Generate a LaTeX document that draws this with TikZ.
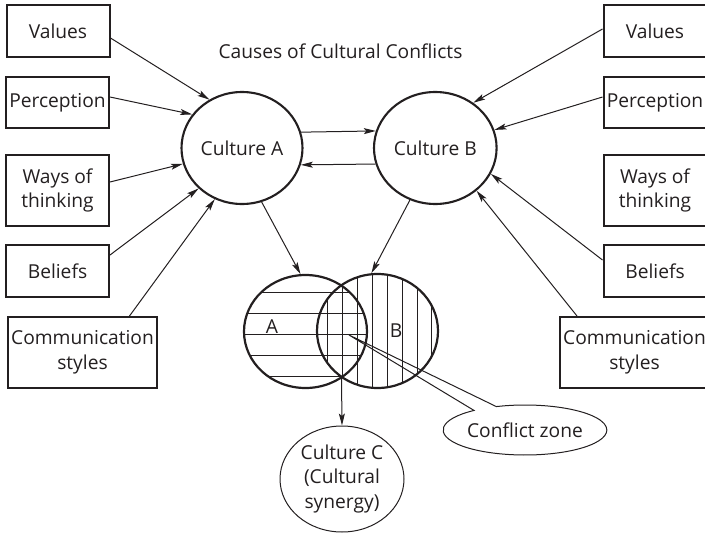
\documentclass[tikz,border=0pt]{standalone}
\usepackage{fontspec}
\setmainfont{Open Sans}
\usetikzlibrary{arrows.meta,shapes.geometric,shapes.callouts,calc}
\definecolor{ink}{RGB}{35,31,32}
\begin{document}
\begin{tikzpicture}[x=1pt,y=-1pt,
  every node/.style={text=ink, font=\fontsize{19.2}{24.5}\selectfont},
  factor/.style={draw=ink, line width=2pt, rectangle, inner sep=0pt, align=center, minimum width=103pt},
  culture/.style={draw=ink, line width=2.1pt, ellipse, inner sep=0pt, align=center},
  venn/.style={draw=ink, line width=2.2pt, ellipse, inner sep=0pt},
  thinshape/.style={draw=ink, line width=1pt, inner sep=0pt, align=center},
  conn/.style={draw=ink, line width=1pt, -{Stealth[length=12pt,width=6pt,inset=2.5pt]}},
  hatch/.style={draw=ink, line width=1.4pt}]
\useasboundingbox (0,0) rectangle (705,533);

% title
\node[anchor=base] (title) at (340.5,58) {Causes of Cultural Conflicts};

% left factor boxes
\node[factor, minimum height=52pt] (vL) at (58,31) {Values};
\node[factor, minimum height=51pt] (pL) at (57.5,102.5) {Perception};
\node[factor, minimum height=71pt] (wL) at (57.5,190.5) {Ways of\\thinking};
\node[factor, minimum height=52pt] (bL) at (57.5,271) {Beliefs};
\node[factor, minimum height=71pt, minimum width=149pt] (cL) at (82.5,352.5) {Communication\\styles};

% right factor boxes
\node[factor, minimum height=52pt] (vR) at (655,31) {Values};
\node[factor, minimum height=51pt] (pR) at (655,102.5) {Perception};
\node[factor, minimum height=71pt] (wR) at (655,190.5) {Ways of\\thinking};
\node[factor, minimum height=52pt] (bR) at (655,271) {Beliefs};
\node[factor, minimum height=71pt, minimum width=149pt] (cR) at (634.5,352.5) {Communication\\styles};

% cultures
\node[culture, minimum width=121pt, minimum height=112pt] (A) at (242,148) {Culture A};
\node[culture, minimum width=122.6pt, minimum height=112pt] (B) at (435.3,148) {Culture B};

% hatching of the Venn circles
\begin{scope}
  \clip (305.5,331.5) ellipse [x radius=61.5, y radius=56.5];
  \foreach \yy in {292.5,313.5,334.5,355.5,376.5}
    \draw[hatch] (240,\yy) -- (370,\yy);
\end{scope}
\begin{scope}
  \clip (377.5,331) ellipse [x radius=60.5, y radius=57];
  \foreach \xx in {327.5,342.5,357.5,372.5,387.5,402.5,417.5,431.5}
    \draw[hatch] (\xx,270) -- (\xx,392);
\end{scope}
\node[venn, minimum width=123pt, minimum height=113pt] (L) at (305.5,331.5) {};
\node[venn, minimum width=121pt, minimum height=114pt] (R) at (377.5,331) {};
\node (la) at (272,327) {A};
\node (lb) at (396,331) {B};

\coordinate (ix) at (341.5,377);
\coordinate (ptr) at (349,335);

% Culture C and conflict zone
\node[thinshape, ellipse, minimum width=124pt, minimum height=106pt] (C) at (342,479) {Culture C\\(Cultural\\synergy)};
\node[thinshape, ellipse callout, minimum width=150pt, minimum height=50pt,
      callout absolute pointer={(ptr)}, callout pointer arc=18] (cz) at (525,430) {Conflict zone};

% connectors left
\draw[conn] ([yshift=-7pt]vL.east) -- (A.124.8);
\draw[conn] ([yshift=5.5pt]pL.east) -- (A.146.6);
\draw[conn] ([yshift=8.5pt]wL.east) -- (A.195);
\draw[conn] ([yshift=16pt]bL.east) -- (A.223);
\draw[conn] ([xshift=47pt]cL.north) -- (A.242.6);

% connectors right
\draw[conn] ([yshift=2pt]vR.west) -- (B.50.7);
\draw[conn] ([yshift=5.5pt]pR.west) -- (B.17.7);
\draw[conn] ([yshift=11pt]bR.west) -- (B.335.4);
\draw[conn] ([xshift=-57.5pt]cR.north) -- (B.314);

% between cultures
\draw[conn] (A.15.7) -- (B.164.3);
\draw[conn] (B.195.7) -- (A.344.3);

% to Venn
\draw[conn] (A.290.3) -- (L.95);
\draw[conn] (B.244) -- (R.96.5);
\draw[conn] (ix) -- (C.north);
\end{tikzpicture}
\end{document}
